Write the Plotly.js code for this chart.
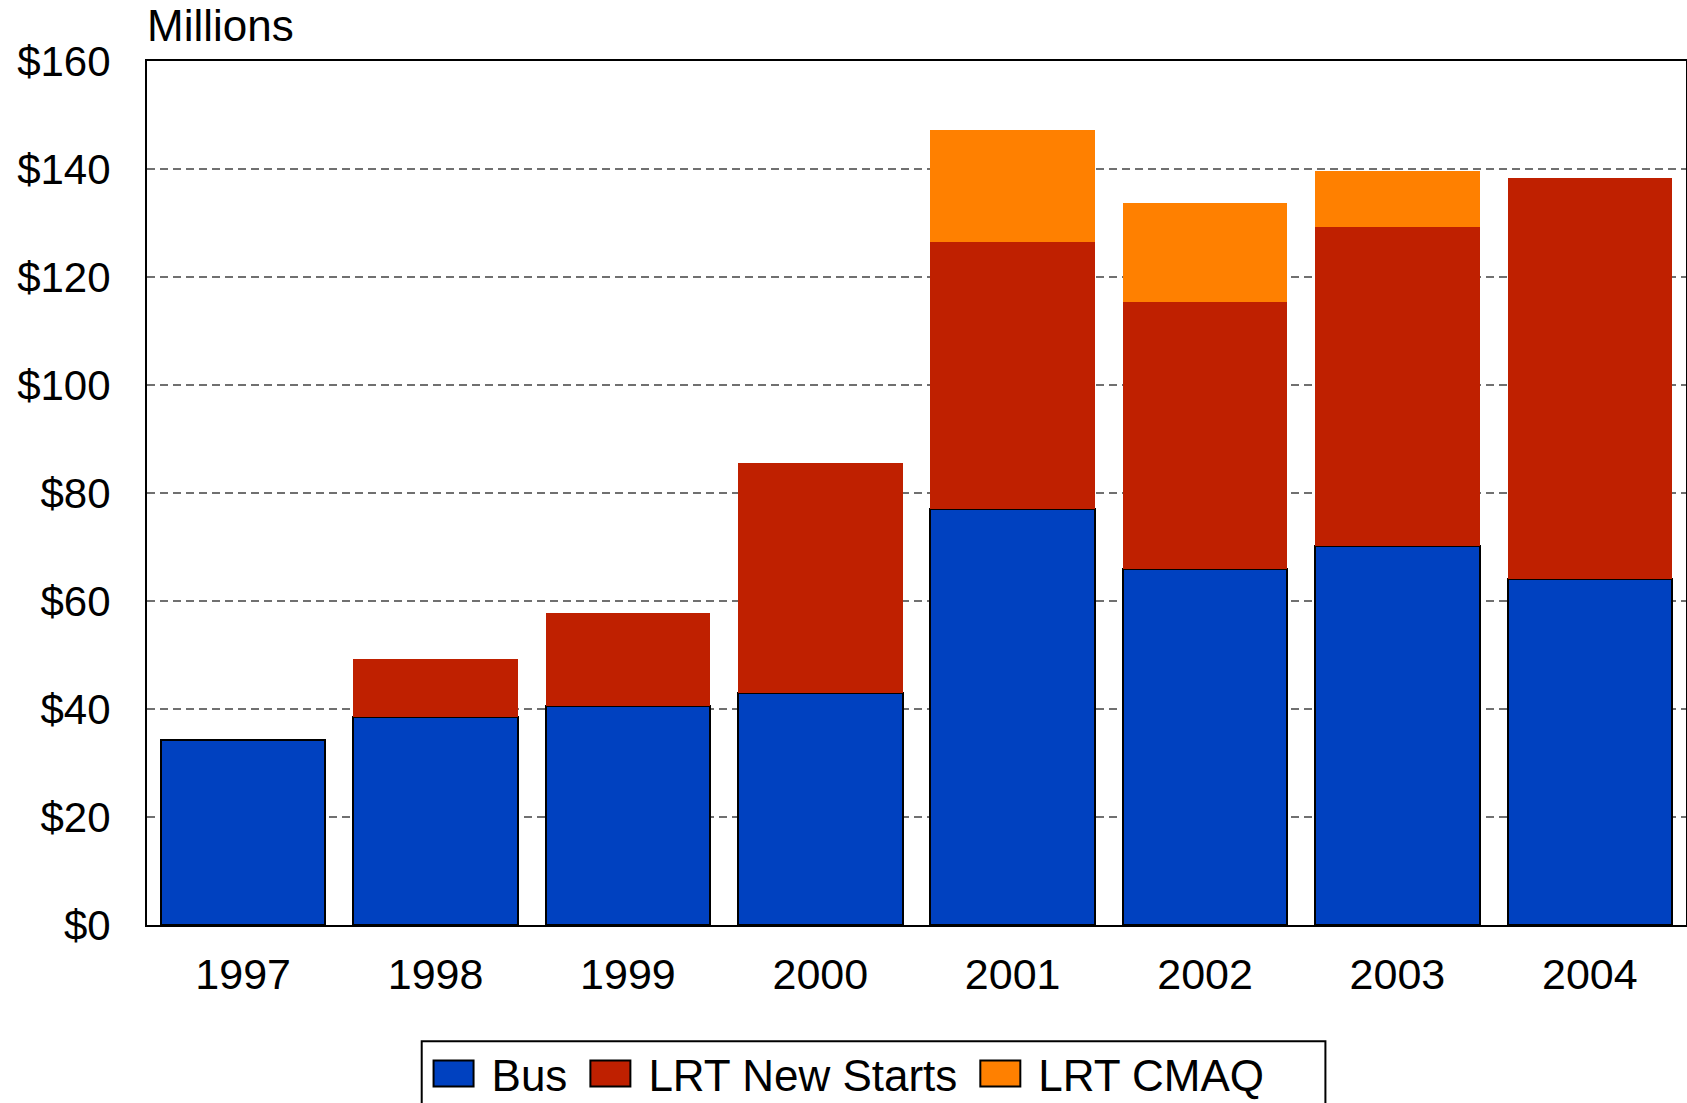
<!DOCTYPE html>
<html>
<head>
<meta charset="utf-8">
<script src="https://cdn.plot.ly/plotly-3.0.1.min.js"></script>
<style>
  html, body { margin: 0; padding: 0; background: #fff; }
  #chart { width: 1687px; height: 1103px; }
</style>
</head>
<body>
<div id="chart"></div>
<script>
// Data (millions of dollars)
const years = ['1997', '1998', '1999', '2000', '2001', '2002', '2003', '2004'];
const bus = [34.3, 38.5, 40.6, 43.0, 77.0, 65.9, 70.1, 64.0];
const lrtNewStarts = [0, 10.7, 17.2, 42.5, 49.4, 49.5, 59.1, 74.3];
const lrtCmaq = [0, 0, 0, 0, 20.9, 18.3, 10.4, 0];
const yTickVals = [0, 20, 40, 60, 80, 100, 120, 140, 160];

const FONT = 'Liberation Sans, Arial, sans-serif';

const traces = [
  {
    type: 'bar', name: 'Bus', x: years, y: bus,
    marker: { color: '#0041C0', line: { color: '#000000', width: 2 } }
  },
  {
    type: 'bar', name: 'LRT New Starts', x: years, y: lrtNewStarts,
    marker: { color: '#BF2000', line: { width: 0 } }
  },
  {
    type: 'bar', name: 'LRT CMAQ', x: years, y: lrtCmaq,
    marker: { color: '#FF8000', line: { width: 0 } }
  }
];

const layout = {
  width: 1687, height: 1103,
  margin: { l: 147, r: 1, t: 61, b: 178, autoexpand: false },
  paper_bgcolor: '#ffffff', plot_bgcolor: '#ffffff',
  barmode: 'stack',
  bargap: 0.145,
  font: { family: FONT, size: 42, color: '#000000' },
  showlegend: true,
  xaxis: {
    type: 'category',
    range: [-0.5, 7.5],
    showline: true, linecolor: '#000000', linewidth: 2, mirror: true,
    ticks: '', showgrid: false, zeroline: false,
    ticklabelstandoff: 10,
    tickfont: { family: FONT, size: 43, color: '#000000' }
  },
  yaxis: {
    range: [0, 160],
    tickvals: yTickVals,
    ticktext: yTickVals.map(v => '$' + v),
    showline: true, linecolor: '#000000', linewidth: 2, mirror: true,
    ticks: '', zeroline: false,
    showgrid: true, gridcolor: '#707070', gridwidth: 1.5, griddash: '8px,5px',
    ticklabelstandoff: 26,
    tickfont: { family: FONT, size: 42, color: '#000000' }
  },
  legend: {
    orientation: 'h',
    xref: 'paper', yref: 'container',
    x: 0.1745, xanchor: 'left',
    y: 0.0263, yanchor: 'middle',
    borderwidth: 0, bgcolor: 'rgba(0,0,0,0)',
    itemwidth: 66,
    traceorder: 'normal',
    font: { family: FONT, size: 44, color: '#000000' }
  },
  shapes: [
    {
      type: 'rect', xref: 'paper', yref: 'paper',
      x0: 0.1785, x1: 0.7657, y0: -0.1345, y1: -0.26,
      line: { color: '#000000', width: 2 }, fillcolor: 'rgba(0,0,0,0)',
      layer: 'above'
    }
  ],
  annotations: [
    {
      text: 'Millions', xref: 'paper', yref: 'paper',
      x: -0.001, xanchor: 'left', y: 1.041, yanchor: 'middle',
      showarrow: false,
      font: { family: FONT, size: 44, color: '#000000' }
    }
  ]
};

const gd = document.getElementById('chart');

function fixLegendSwatches() {
  document.querySelectorAll('#chart .legendpoints path').forEach(p => {
    p.setAttribute('d', 'M20,13H-20V-13H20Z');
    p.style.stroke = '#000000';
    p.style.strokeWidth = '2px';
  });
}

Plotly.newPlot(gd, traces, layout, { displayModeBar: false, staticPlot: true }).then(() => {
  fixLegendSwatches();
  gd.on('plotly_afterplot', fixLegendSwatches);
});
</script>
</body>
</html>
